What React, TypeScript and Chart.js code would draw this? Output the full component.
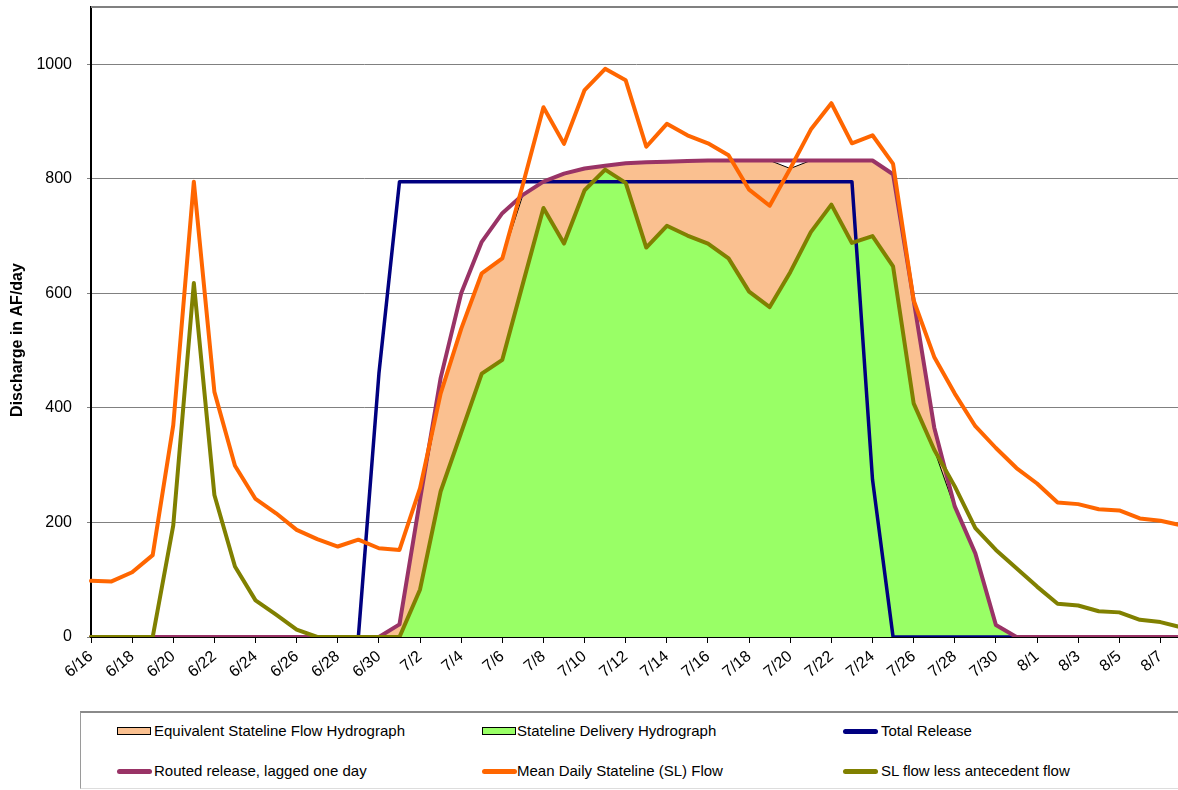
import React, { useEffect, useRef } from "react";
import { Chart, registerables } from "chart.js";

Chart.register(...registerables);

const FONT = "'Liberation Sans', Arial, Helvetica, sans-serif";

const dates = [
  "6/16", "6/17", "6/18", "6/19", "6/20", "6/21", "6/22", "6/23", "6/24", "6/25", "6/26", "6/27", "6/28", "6/29", "6/30",
  "7/1", "7/2", "7/3", "7/4", "7/5", "7/6", "7/7", "7/8", "7/9", "7/10", "7/11", "7/12", "7/13", "7/14", "7/15", "7/16",
  "7/17", "7/18", "7/19", "7/20", "7/21", "7/22", "7/23", "7/24", "7/25", "7/26", "7/27", "7/28", "7/29", "7/30", "7/31",
  "8/1", "8/2", "8/3", "8/4", "8/5", "8/6", "8/7", "8/8",
];

const equivalentFlow = [
  0, 0, 0, 0, 0, 0, 0, 0, 0, 0, 0, 0, 0, 0, 0,
  22, 240, 425, 538, 635, 661, 772, 795, 809, 818, 823, 827, 829, 830, 831, 832,
  832, 832, 832, 818, 832, 832, 832, 832, 808, 588, 360, 225, 146, 21, 0,
  0, 0, 0, 0, 0, 0, 0, 0,
];

const deliveryHydrograph = [
  0, 0, 0, 0, 0, 0, 0, 0, 0, 0, 0, 0, 0, 0, 0,
  0, 83, 254, 357, 460, 484, 617, 749, 687, 780, 816, 793, 680, 718, 701, 687,
  661, 603, 576, 637, 707, 755, 688, 700, 647, 408, 327, 225, 146, 21, 0,
  0, 0, 0, 0, 0, 0, 0, 0,
];

const totalRelease = [
  0, 0, 0, 0, 0, 0, 0, 0, 0, 0, 0, 0, 0, 0, 460,
  795, 795, 795, 795, 795, 795, 795, 795, 795, 795, 795, 795, 795, 795, 795, 795,
  795, 795, 795, 795, 795, 795, 795, 275, 0, 0, 0, 0, 0, 0, 0,
  0, 0, 0, 0, 0, 0, 0, 0,
];

const routedRelease = [
  0, 0, 0, 0, 0, 0, 0, 0, 0, 0, 0, 0, 0, 0, 0,
  22, 240, 452, 600, 690, 740, 772, 795, 809, 818, 823, 827, 829, 830, 831, 832,
  832, 832, 832, 832, 832, 832, 832, 832, 808, 588, 366, 228, 146, 21, 0,
  0, 0, 0, 0, 0, 0, 0, 0,
];

const meanDailyFlow = [
  98, 97, 113, 143, 370, 795, 428, 299, 241, 216, 187, 171, 158, 170, 155,
  152, 260, 425, 538, 635, 661, 790, 925, 861, 955, 992, 972, 856, 896, 876, 862,
  841, 781, 753, 818, 886, 932, 862, 876, 826, 588, 489, 425, 368, 330, 295,
  268, 235, 232, 223, 221, 207, 203, 195,
];

const slLessAntecedent = [
  0, 0, 0, 0, 195, 618, 248, 123, 64, 39, 13, 0, 0, 0, 0,
  0, 83, 254, 357, 460, 484, 617, 749, 687, 780, 816, 793, 680, 718, 701, 687,
  661, 603, 576, 637, 707, 755, 688, 700, 647, 408, 327, 263, 190, 152, 120,
  88, 58, 55, 45, 43, 30, 26, 17,
];

const yTickValues = [0, 200, 400, 600, 800, 1000];
const yTitle = "Discharge in AF/day";

type Series = {
  label: string;
  data: number[];
  kind: "area" | "line";
  color: string;
  width: number;
  order: number;
};

const seriesList: Series[] = [
  { label: "Equivalent Stateline Flow Hydrograph", data: equivalentFlow, kind: "area", color: "#FAC090", width: 1, order: 6 },
  { label: "Stateline Delivery Hydrograph", data: deliveryHydrograph, kind: "area", color: "#99FF66", width: 1, order: 5 },
  { label: "Total Release", data: totalRelease, kind: "line", color: "#000080", width: 3.5, order: 4 },
  { label: "Routed release, lagged one day", data: routedRelease, kind: "line", color: "#993366", width: 4, order: 3 },
  { label: "Mean Daily Stateline (SL) Flow", data: meanDailyFlow, kind: "line", color: "#FF6600", width: 4, order: 2 },
  { label: "SL flow less antecedent flow", data: slLessAntecedent, kind: "line", color: "#808000", width: 4, order: 1 },
];

const framePlugin = {
  id: "frame",
  afterDraw(chart: any) {
    const { ctx, chartArea } = chart;
    ctx.save();
    ctx.strokeStyle = "#808080";
    ctx.lineWidth = 2;
    ctx.beginPath();
    ctx.moveTo(chartArea.left, chartArea.top);
    ctx.lineTo(chartArea.right + 20, chartArea.top);
    ctx.stroke();
    ctx.translate(18, 340);
    ctx.rotate(-Math.PI / 2);
    ctx.font = `bold 16px ${FONT}`;
    ctx.fillStyle = "#000";
    ctx.textAlign = "center";
    ctx.textBaseline = "middle";
    ctx.fillText(yTitle, 0, 0);
    ctx.restore();
  },
};

export default function App() {
  const canvasRef = useRef<HTMLCanvasElement | null>(null);

  useEffect(() => {
    const canvas = canvasRef.current;
    if (!canvas) return;
    const chart = new Chart(canvas, {
      type: "line",
      data: {
        labels: dates,
        datasets: seriesList.map((s) =>
          s.kind === "area"
            ? {
                label: s.label,
                data: s.data,
                backgroundColor: s.color,
                borderColor: "#000000",
                borderWidth: 1,
                fill: "origin",
                pointRadius: 0,
                tension: 0,
                order: s.order,
              }
            : {
                label: s.label,
                data: s.data,
                borderColor: s.color,
                backgroundColor: s.color,
                borderWidth: s.width,
                fill: false,
                pointRadius: 0,
                tension: 0,
                borderJoinStyle: "round",
                borderCapStyle: "round",
                order: s.order,
              }
        ) as any,
      },
      options: {
        animation: false,
        responsive: false,
        events: [],
        layout: { padding: { top: 7, right: 9, left: 0, bottom: 0 } },
        plugins: {
          legend: { display: false },
          tooltip: { enabled: false },
        },
        scales: {
          x: {
            type: "category",
            grid: {
              display: true,
              drawOnChartArea: false,
              drawTicks: true,
              tickLength: 6,
              color: "#000",
              lineWidth: 1,
            },
            border: { color: "#000", width: 2 },
            ticks: {
              autoSkip: false,
              minRotation: 40,
              maxRotation: 40,
              color: "#000",
              padding: 4,
              font: { family: FONT, size: 16 },
            },
            afterBuildTicks: (s: any) => {
              s.ticks = s.ticks.filter((_t: any, i: number) => i % 2 === 0);
            },
            afterFit: (s: any) => {
              s.height = 68;
              s.paddingLeft = 0;
              s.paddingRight = 0;
            },
          },
          y: {
            min: 0,
            max: 1100,
            afterBuildTicks: (s: any) => {
              s.ticks = yTickValues.map((v) => ({ value: v }));
            },
            grid: { color: "#808080", lineWidth: 1, tickLength: 4 },
            border: { color: "#000", width: 2 },
            ticks: {
              color: "#000",
              padding: 15,
              font: { family: FONT, size: 16 },
              callback: (v: any) => String(v),
            },
            afterFit: (s: any) => {
              s.width = 91;
              s.paddingTop = 0;
              s.paddingBottom = 0;
            },
          },
        },
      } as any,
      plugins: [framePlugin],
    });
    return () => chart.destroy();
  }, []);

  const legendCols = [36, 401, 762];
  const textCols = [73, 436, 800];
  const rowCenters = [20, 60];

  return (
    <div
      style={{
        position: "fixed",
        left: 0,
        top: 0,
        width: 1190,
        height: 790,
        background: "#fff",
        overflow: "hidden",
      }}
    >
      <canvas ref={canvasRef} width={1190} height={705} style={{ display: "block" }} />
      <div
        style={{
          position: "absolute",
          left: 80,
          top: 711,
          width: 1120,
          height: 78,
          boxSizing: "border-box",
          borderTop: "2px solid #8a8a8a",
          borderLeft: "1px solid #9a9a9a",
          borderBottom: "1px solid #dddddd",
          fontFamily: FONT,
          fontSize: 15,
          color: "#000",
        }}
      >
        {seriesList.map((s, i) => {
          const col = i % 3;
          const row = Math.floor(i / 3);
          const cy = rowCenters[row] - 2;
          return (
            <React.Fragment key={s.label}>
              {s.kind === "area" ? (
                <div
                  style={{
                    position: "absolute",
                    left: legendCols[col],
                    top: cy - 4,
                    width: 34,
                    height: 8,
                    boxSizing: "border-box",
                    background: s.color,
                    border: "1.5px solid #000",
                  }}
                />
              ) : (
                <div
                  style={{
                    position: "absolute",
                    left: legendCols[col],
                    top: cy - 2.5,
                    width: 35,
                    height: 5,
                    borderRadius: 3,
                    background: s.color,
                  }}
                />
              )}
              <div
                style={{
                  position: "absolute",
                  left: textCols[col],
                  top: cy - 10,
                  height: 20,
                  lineHeight: "20px",
                  whiteSpace: "nowrap",
                }}
              >
                {s.label}
              </div>
            </React.Fragment>
          );
        })}
      </div>
    </div>
  );
}
